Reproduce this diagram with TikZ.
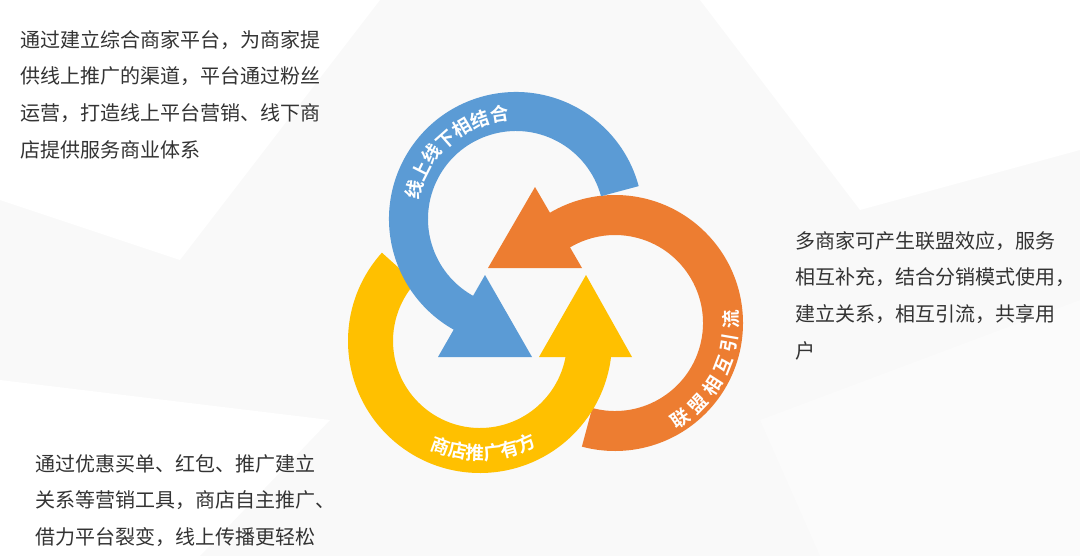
\documentclass[tikz,border=0pt]{standalone}
\usepackage{fontspec}
\newfontfamily\cjk{Noto Sans CJK SC}
\newfontfamily\cjkb{Noto Sans CJK SC Bold}
\usetikzlibrary{decorations.text,calc}
\definecolor{cblue}{HTML}{5B9BD5}
\definecolor{corange}{HTML}{ED7D31}
\definecolor{cyellow}{HTML}{FFC000}
\definecolor{ctext}{HTML}{333333}
\begin{document}
\begin{tikzpicture}[x=0.75pt,y=-0.75pt,
  para/.style={anchor=north west,align=left,text=ctext,font=\cjk\fontsize{15pt}{27.5pt}\selectfont,inner sep=0pt},
  ringlabel/.style={decorate,decoration={text along path,text={|\cjkb\fontsize{14pt}{15pt}\selectfont\color{white}|#1},text align=center}},
  ringlabelfit/.style={decorate,decoration={text along path,text={|\cjkb\fontsize{14pt}{15pt}\selectfont\color{white}|#1},text align={fit to path}}}]
\useasboundingbox (0,0) rectangle (1080,556);
\fill[gray!5] (0,0) rectangle (1080,556);
\fill[white] (0,0) -- (380,0) -- (180,260) -- (0,200) -- cycle;
\fill[white] (700,0) -- (1080,0) -- (1080,150) -- (860,210) -- cycle;
\fill[gray!3] (760,420) -- (1080,300) -- (1080,556) -- (820,556) -- cycle;
\fill[white] (0,380) -- (330,420) -- (200,556) -- (0,556) -- cycle;
% rings
\coordinate (cb) at (516,219);
\coordinate (co) at (615,323);
\coordinate (cy) at (480,341);
\fill[corange] ($(co)+(-135:128)$) arc[start angle=-135,end angle=105,radius=128]
  -- ($(co)+(105:88)$) arc[start angle=105,end angle=-135,radius=88] -- cycle;
\fill[corange] (488,268) -- (582,268) -- (535,187) -- cycle;
\fill[cyellow] ($(cy)+(222:132)$) arc[start angle=222,end angle=-8,radius=132]
  -- ($(cy)+(-8:87)$) arc[start angle=-8,end angle=222,radius=87] -- cycle;
\fill[cyellow] (539,357) -- (632,357) -- (586,275) -- cycle;
\fill[cblue] ($(cb)+(-15:127)$) arc[start angle=-15,end angle=-242,radius=127]
  -- ($(cb)+(-242:88)$) arc[start angle=-242,end angle=-15,radius=88] -- cycle;
\fill[cblue] (438,357) -- (532,357) -- (485,275) -- cycle;
% ring labels
\path[ringlabel={线上线下相结合}] ($(cb)+(183:99)$) arc[start angle=183,end angle=274,radius=99];
\path[ringlabelfit={联盟相互引流}] ($(co)+(60:123)$) arc[start angle=60,end angle=-6,radius=123];
\path[ringlabel={商店推广有方}] ($(cy)+(126:119)$) arc[start angle=126,end angle=50,radius=119];
% paragraphs
\node[para] (t1) at (20,30) {通过建立综合商家平台，为商家提\\供线上推广的渠道，平台通过粉丝\\运营，打造线上平台营销、线下商\\店提供服务商业体系};
\node[para] (t2) at (795,231) {多商家可产生联盟效应，服务\\相互补充，结合分销模式使用，\\建立关系，相互引流，共享用\\户};
\node[para] (t3) at (35,454) {通过优惠买单、红包、推广建立\\关系等营销工具，商店自主推广、\\借力平台裂变，线上传播更轻松};
\end{tikzpicture}
\end{document}
